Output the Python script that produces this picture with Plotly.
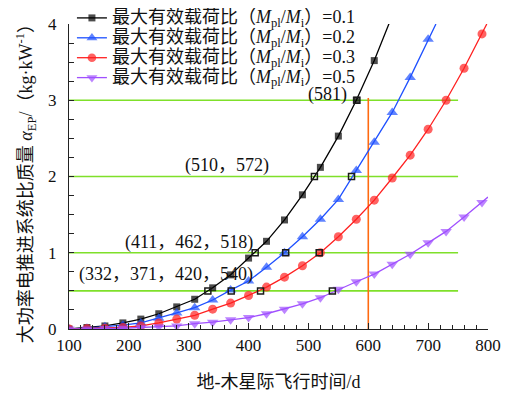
import plotly.graph_objects as go

# ---------------- data ----------------
x_black = [100,130,160,190,220,250,280,310,340,370,400,430,460,490,520,550,580,610,640]
y_black = [0.0,0.02,0.04,0.08,0.13,0.20,0.29,0.39,0.54,0.71,0.93,1.15,1.43,1.76,2.12,2.53,3.00,3.52,4.11]

x_blue = [100,130,160,190,220,250,280,310,340,370,400,430,460,490,520,550,580,610,640,670,700]
y_blue = [0.0,0.01,0.03,0.05,0.08,0.14,0.21,0.28,0.38,0.51,0.63,0.81,1.00,1.21,1.44,1.70,2.08,2.45,2.84,3.30,3.80]
blue_end = (713, 4.0)

x_red = [100,130,160,190,220,250,280,310,340,370,400,430,460,490,520,550,580,610,640,670,700,730,760,790]
y_red = [0.0,0.005,0.01,0.02,0.04,0.08,0.13,0.18,0.26,0.34,0.44,0.55,0.68,0.83,1.00,1.21,1.44,1.69,1.98,2.28,2.62,3.00,3.42,3.87]
red_end = (798, 4.0)

x_purple = [100,130,160,190,220,250,280,310,340,370,400,430,460,490,520,550,580,610,640,670,700,730,760,790]
y_purple = [0.0,0.0,0.005,0.01,0.02,0.03,0.04,0.07,0.09,0.12,0.15,0.20,0.26,0.33,0.41,0.52,0.62,0.72,0.85,0.98,1.13,1.28,1.47,1.66]
purple_end = (800, 1.73)

ratios = ["0.1", "0.2", "0.3", "0.5"]

# reference levels and crossing times
levels = [0.5, 1, 2, 3]
cross_x = [[332, 371, 420, 540], [411, 462, 518], [510, 572], [581]]
labels = ["(332，371，420，540)", "(411，462，518)", "(510，572)", "(581)"]
label_pos = [(113, 0.71), (190, 1.14), (290, 2.15), (496, 3.07)]
level_x_range = [100, 750]
t_limit = 600

SERIF = "Liberation Serif, 'Times New Roman', 'Noto Sans CJK SC', serif"

fig = go.Figure()

for lv in levels:
    fig.add_trace(go.Scatter(x=level_x_range, y=[lv, lv], mode="lines",
                             line=dict(color="#7FE02A", width=1.6),
                             showlegend=False, hoverinfo="skip"))
fig.add_trace(go.Scatter(x=[t_limit, t_limit], y=[0, 3.03], mode="lines",
                         line=dict(color="#FF6A10", width=1.6),
                         showlegend=False, hoverinfo="skip"))

def name(r):
    return ("<span style='font-size:18px'>最大有效载荷比（<i>M</i><sub>pl</sub>/<i>M</i><sub>i</sub>）="
            + r + "</span>")

series = [
    (x_black, y_black, None, "#000000", "square", 7),
    (x_blue, y_blue, blue_end, "#1E50FF", "triangle-up", 10),
    (x_red, y_red, red_end, "#FF2020", "circle", 9),
    (x_purple, y_purple, purple_end, "#A050FF", "triangle-down", 10),
]
for (xs, ys, end, col, sym, sz), r in zip(series, ratios):
    xx = list(xs)
    yy = list(ys)
    sizes = [sz] * len(xs)
    if end is not None:
        xx.append(end[0]); yy.append(end[1]); sizes.append(0)
    fig.add_trace(go.Scatter(x=xx, y=yy, mode="lines+markers", name=name(r),
                             line=dict(color=col, width=1.3),
                             marker=dict(symbol=sym, size=sizes, color=col,
                                         line=dict(width=0))))

cx, cy = [], []
for lv, xs in zip(levels, cross_x):
    for v in xs:
        cx.append(v); cy.append(lv)
fig.add_trace(go.Scatter(x=cx, y=cy, mode="markers", showlegend=False,
                         marker=dict(symbol="square-open", size=6, color="#1A1A1A",
                                     line=dict(width=1.5, color="#1A1A1A")),
                         hoverinfo="skip"))

for txt, (ax, ay) in zip(labels, label_pos):
    fig.add_annotation(x=ax, y=ay, text=txt, showarrow=False, xanchor="left",
                       yanchor="middle", font=dict(family=SERIF, size=18, color="#111"))

# y-axis title as a rotated annotation
fig.add_annotation(xref="paper", yref="paper", x=-0.102, y=0.492,
                   text="大功率电推进系统比质量 <i>α</i><sub>EP</sub>/（kg·kW<sup>-1</sup>）",
                   textangle=-90, showarrow=False, xanchor="center", yanchor="middle",
                   font=dict(family=SERIF, size=18, color="#111"))

# page body has an 8px margin: the figure is sized to fit the 515x394 window
fig.update_layout(
    width=507, height=386,
    margin=dict(l=61, r=27, t=16, b=65, autoexpand=False),
    paper_bgcolor="white", plot_bgcolor="white",
    font=dict(family=SERIF, size=16, color="#111"),
    legend=dict(x=0.007, y=1.069, xanchor="left", yanchor="top",
                bgcolor="rgba(0,0,0,0)", font=dict(family=SERIF, size=13),
                tracegroupgap=0, itemwidth=30),
    xaxis=dict(range=[100, 800], dtick=100, tick0=100, showgrid=False, zeroline=False,
               automargin=False,
               showline=True, linecolor="#222", linewidth=1.2,
               ticks="inside", ticklen=6, tickcolor="#222",
               minor=dict(dtick=20, ticks="inside", ticklen=4, tickcolor="#222"),
               title=dict(text="地-木星际飞行时间/d", standoff=21,
                          font=dict(family=SERIF, size=18)),
               tickfont=dict(family=SERIF, size=17)),
    yaxis=dict(range=[0, 4], dtick=1, showgrid=False, zeroline=False,
               automargin=False,
               showline=True, linecolor="#222", linewidth=1.2,
               ticks="inside", ticklen=5, tickcolor="#222",
               ticklabelstandoff=8,
               minor=dict(dtick=0.25, ticks="inside", ticklen=5, tickcolor="#222"),
               tickfont=dict(family=SERIF, size=17)),
)

fig.write_html("out.html")
